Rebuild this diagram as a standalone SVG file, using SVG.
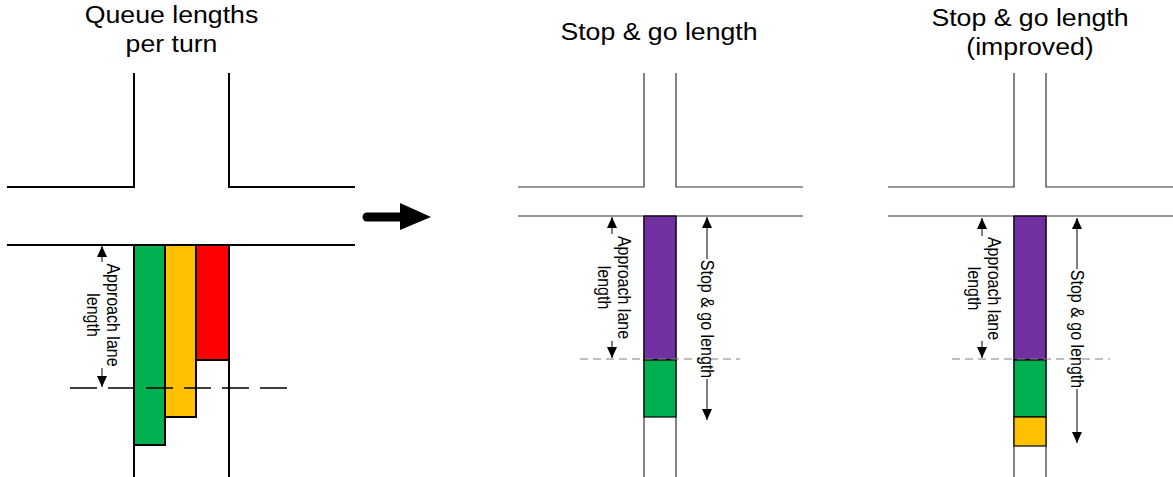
<svg xmlns="http://www.w3.org/2000/svg" width="1173" height="477" viewBox="0 0 1173 477">
<defs>
<marker id="ah" markerUnits="userSpaceOnUse" markerWidth="12" markerHeight="10" refX="11" refY="5" orient="auto">
<path d="M0,0 L11,5 L0,10 Z" fill="#000"/>
</marker>
<style>
.t{font-family:"Liberation Sans",Arial,sans-serif;fill:#000}
.title{font-size:23px;text-anchor:middle}
.lbl{font-size:16px;text-anchor:middle}
.road1{stroke:#000;stroke-width:2;fill:none}
.road2{stroke:#333;stroke-width:1.2;fill:none}
.dim{stroke:#000;stroke-width:1;fill:none;marker-end:url(#ah)}
.dash2{stroke:#808080;stroke-width:1.2;stroke-dasharray:8 5;fill:none}
.q1{stroke:#000;stroke-width:2}
.q2{stroke:#000;stroke-width:1.2}
.green{fill:#00B050}.yellow{fill:#FFC000}.red{fill:#FF0000}.purple{fill:#7030A0}
</style>
</defs>
<rect width="1173" height="477" fill="#fff"/>

<g id="titles">
<text class="t title" transform="translate(171.5,23) scale(1.16,1)"><tspan x="0" y="0">Queue lengths</tspan><tspan x="0" y="29">per turn</tspan></text>
<text class="t title" transform="translate(659,40) scale(1.16,1)">Stop &amp; go length</text>
<text class="t title" transform="translate(1030,26) scale(1.16,1)"><tspan x="0" y="0">Stop &amp; go length</tspan><tspan x="0" y="29">(improved)</tspan></text>
</g>

<g id="panel-queue">
<path class="road1" d="M7,187 H134 V73 M229,73 V187 H355 M7,245 H355"/>
<rect class="green q1" x="134" y="245" width="31" height="200"/>
<rect class="yellow q1" x="165" y="245" width="31" height="172"/>
<rect class="red q1" x="196" y="245" width="33" height="115"/>
<path class="road1" d="M134,445 V477 M229,360 V477"/>
<line x1="70" y1="388" x2="288" y2="388" stroke="#000" stroke-width="1.3" stroke-dasharray="27 11"/>
<text class="t lbl" transform="translate(107,315) scale(1.17,1) rotate(90)"><tspan x="0" y="0">Approach lane</tspan><tspan x="0" y="17">length</tspan></text>
</g>

<g id="main-arrow">
<line x1="367" y1="217" x2="404" y2="217" stroke="#000" stroke-width="9" stroke-linecap="round"/>
<path d="M400,203 L431,217 L400,230 Z" fill="#000"/>
</g>

<g id="panel-stopgo">
<path class="road2" d="M518,187 H644 V73 M676,73 V187 H803 M518,216 H803"/>
<path class="road2" d="M644,216 V477 M676,216 V477"/>
<rect class="purple q2" x="644" y="216" width="32" height="144"/>
<rect class="green q2" x="644" y="360" width="32" height="57"/>
<line class="dash2" x1="580" y1="359" x2="740" y2="359"/>
<text class="t lbl" transform="translate(617.5,287.5) scale(1.17,1) rotate(90)"><tspan x="0" y="0">Approach lane</tspan><tspan x="0" y="17">length</tspan></text>
<text class="t lbl" transform="translate(701,319) scale(1.17,1) rotate(90)">Stop &amp; go length</text>
</g>

<g id="panel-improved">
<path class="road2" d="M888,187 H1014 V73 M1046,73 V187 H1173 M888,216 H1173"/>
<path class="road2" d="M1014,216 V477 M1046,216 V477"/>
<rect class="purple q2" x="1014" y="216" width="32" height="144"/>
<rect class="green q2" x="1014" y="360" width="32" height="57"/>
<rect class="yellow q2" x="1014" y="417" width="32" height="29"/>
<line class="dash2" x1="952" y1="359" x2="1110" y2="359"/>
<text class="t lbl" transform="translate(987.5,288.5) scale(1.17,1) rotate(90)"><tspan x="0" y="0">Approach lane</tspan><tspan x="0" y="17">length</tspan></text>
<text class="t lbl" transform="translate(1071,329) scale(1.17,1) rotate(90)">Stop &amp; go length</text>
</g>

<g id="connectors">
<line class="dim" x1="102" y1="262" x2="102" y2="246"/>
<line class="dim" x1="102" y1="368" x2="102" y2="387"/>
<line class="dim" x1="612" y1="234" x2="612" y2="217"/>
<line class="dim" x1="612" y1="341" x2="612" y2="358"/>
<line class="dim" x1="707" y1="259" x2="707" y2="217"/>
<line class="dim" x1="707" y1="379" x2="707" y2="420"/>
<line class="dim" x1="982" y1="236" x2="982" y2="218"/>
<line class="dim" x1="982" y1="341" x2="982" y2="358"/>
<line class="dim" x1="1077" y1="269" x2="1077" y2="218"/>
<line class="dim" x1="1077" y1="389" x2="1077" y2="443"/>
</g>
</svg>
